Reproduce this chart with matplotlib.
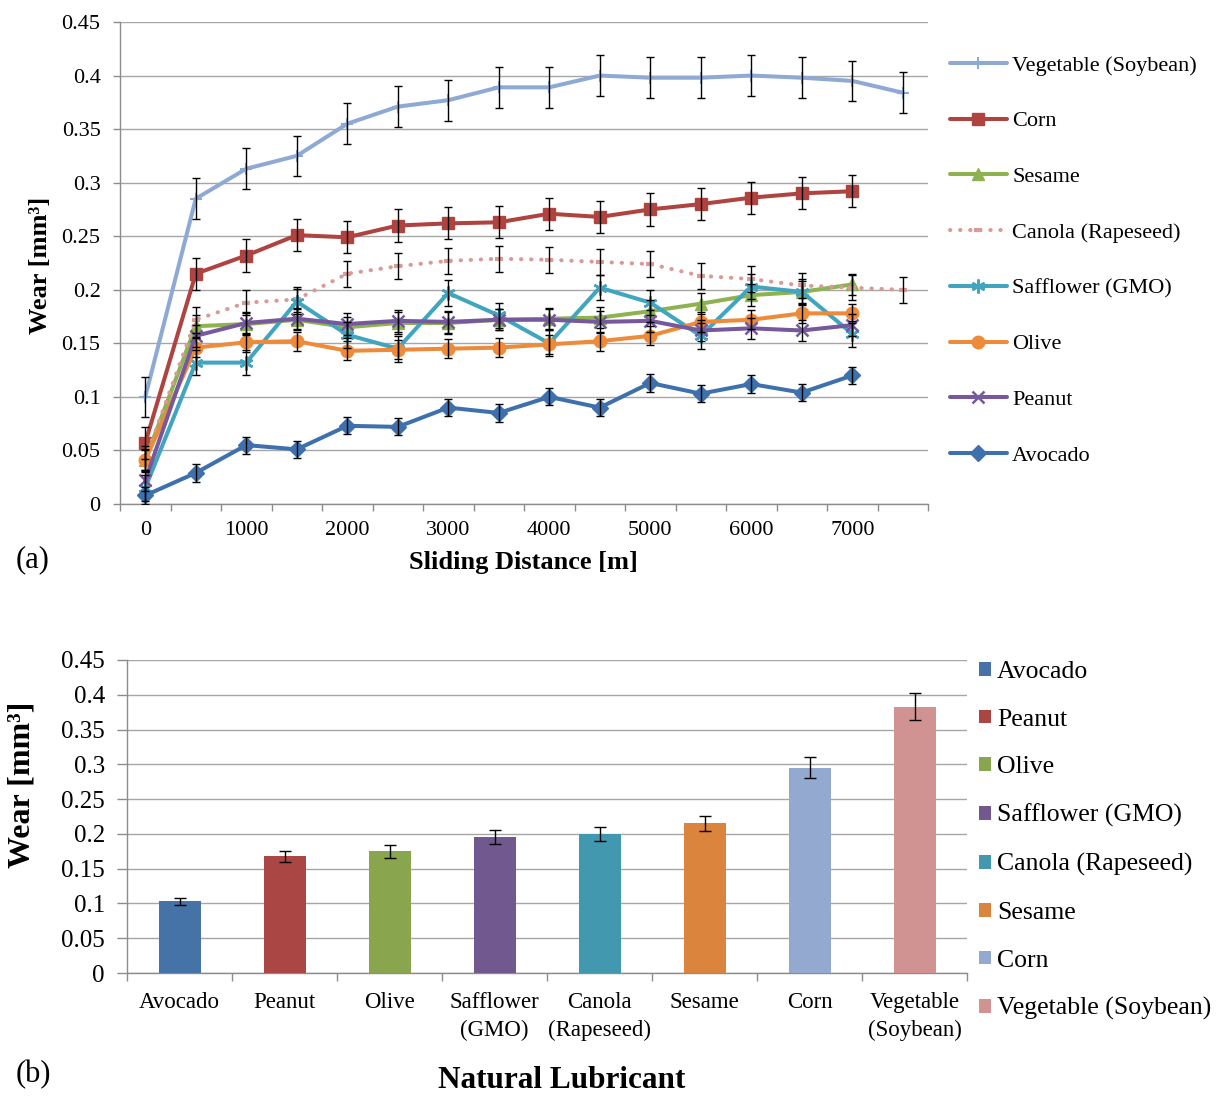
import matplotlib
matplotlib.use("Agg")
import matplotlib.pyplot as plt
from matplotlib.patches import Patch
from matplotlib.lines import Line2D

plt.rcParams['font.family'] = ['Liberation Serif', 'DejaVu Serif']

# ---------------- data: panel (a) ----------------
distance = [0, 500, 1000, 1500, 2000, 2500, 3000, 3500, 4000, 4500, 5000, 5500, 6000, 6500, 7000, 7500]
x_tick_labels = ['0', '1000', '2000', '3000', '4000', '5000', '6000', '7000']

vegetable = [0.100, 0.285, 0.313, 0.325, 0.355, 0.371, 0.377, 0.389, 0.389, 0.400, 0.398, 0.398, 0.400, 0.398, 0.395, 0.384]
corn = [0.057, 0.215, 0.232, 0.251, 0.249, 0.260, 0.262, 0.263, 0.271, 0.268, 0.275, 0.280, 0.286, 0.290, 0.292]
sesame = [0.041, 0.166, 0.168, 0.172, 0.165, 0.169, 0.169, 0.172, 0.173, 0.174, 0.180, 0.187, 0.195, 0.198, 0.205]
canola = [0.042, 0.172, 0.188, 0.191, 0.215, 0.222, 0.227, 0.229, 0.228, 0.226, 0.224, 0.213, 0.210, 0.204, 0.202, 0.200]
safflower = [0.015, 0.132, 0.132, 0.189, 0.158, 0.145, 0.197, 0.176, 0.150, 0.202, 0.188, 0.157, 0.203, 0.198, 0.159]
olive = [0.041, 0.146, 0.151, 0.152, 0.143, 0.144, 0.145, 0.146, 0.149, 0.152, 0.157, 0.170, 0.172, 0.178, 0.178]
peanut = [0.022, 0.157, 0.169, 0.173, 0.168, 0.171, 0.170, 0.172, 0.172, 0.170, 0.171, 0.162, 0.164, 0.162, 0.167]
avocado = [0.008, 0.029, 0.055, 0.051, 0.073, 0.072, 0.090, 0.085, 0.100, 0.090, 0.113, 0.103, 0.112, 0.104, 0.120]

err_vegetable = 0.019
err_corn = 0.015
err_sesame = 0.010
err_canola = 0.012
err_safflower = 0.012
err_olive = 0.009
err_peanut = 0.010
err_avocado = 0.008

# ---------------- data: panel (b) ----------------
lubricants = ['Avocado', 'Peanut', 'Olive', 'Safflower (GMO)', 'Canola (Rapeseed)', 'Sesame', 'Corn', 'Vegetable (Soybean)']
lubricant_ticks = ['Avocado', 'Peanut', 'Olive', 'Safflower\n(GMO)', 'Canola\n(Rapeseed)', 'Sesame', 'Corn', 'Vegetable\n(Soybean)']
final_wear = [0.103, 0.168, 0.175, 0.195, 0.200, 0.215, 0.295, 0.383]
final_err = [0.005, 0.008, 0.009, 0.010, 0.010, 0.011, 0.015, 0.019]
bar_colors = ['#4572A7', '#AA4643', '#89A54E', '#71588F', '#4198AF', '#DB843D', '#93A9CF', '#D19392']

W, H = 1218, 1097
fig = plt.figure(figsize=(W / 100, H / 100), dpi=100)

grid_c = '#A6A6A6'
axis_c = '#8C8C8C'

# ---------------- panel (a) ----------------
ax = fig.add_axes([120 / W, 1 - 504 / H, 808 / W, 482 / H])
series = [
    ('Vegetable (Soybean)', vegetable, err_vegetable, '#8EAAD4', '+', 8, '-', dict(mew=1.5)),
    ('Corn', corn, err_corn, '#AF4340', 's', 9, '-', dict()),
    ('Sesame', sesame, err_sesame, '#8DB24F', '^', 9, '-', dict()),
    ('Canola (Rapeseed)', canola, err_canola, '#D99A98', '_', 6, (0, (0.1, 2.4)), dict(mew=3)),
    ('Safflower (GMO)', safflower, err_safflower, '#42A5BF', (6, 2, 0), 10, '-', dict(mew=1.8)),
    ('Olive', olive, err_olive, '#EE8B3A', 'o', 9, '-', dict()),
    ('Peanut', peanut, err_peanut, '#76599C', 'x', 8, '-', dict(mew=1.8)),
    ('Avocado', avocado, err_avocado, '#3F70AE', 'D', 8, '-', dict()),
]
handles = []
for i, (name, vals, err, col, mk, ms, ls, extra) in enumerate(series):
    xs = list(range(len(vals)))
    line, = ax.plot(xs, vals, color=col, lw=2.9, linestyle=ls, marker=mk, ms=ms,
                    mfc=col, mec=col, dash_capstyle='round', solid_capstyle='round',
                    zorder=3 + i * 0.1, label=name, **extra)
    ax.errorbar(xs, vals, yerr=err, fmt='none', ecolor='black', elinewidth=1.0,
                capsize=3.2, capthick=1.0, zorder=5)
    handles.append(line)

ax.set_xlim(-0.5, len(distance) - 0.5)
ax.set_ylim(0, 0.45)
ax.set_yticks([i * 0.05 for i in range(10)])
ax.set_yticklabels(['0', '0.05', '0.1', '0.15', '0.2', '0.25', '0.3', '0.35', '0.4', '0.45'])
ax.set_xticks(range(0, len(distance) - 1, 2))
ax.set_xticklabels(x_tick_labels)
ax.set_xticks([i - 0.5 for i in range(len(distance) + 1)], minor=True)
ax.tick_params(axis='x', which='major', length=0, pad=12, labelsize=16)
ax.tick_params(axis='x', which='minor', length=5, direction='out', color=axis_c, width=1)
ax.tick_params(axis='y', which='major', length=5, direction='out', color=axis_c, width=1, pad=9, labelsize=16)
ax.grid(axis='y', color=grid_c, lw=1.0, zorder=0)
ax.set_axisbelow(True)
for s in ['top', 'right']:
    ax.spines[s].set_visible(False)
for s in ['left', 'bottom']:
    ax.spines[s].set_color(axis_c)
    ax.spines[s].set_linewidth(1.0)

fig.legend(handles=handles, loc='upper left', bbox_to_anchor=(950 / W, 1 - 55 / H),
           frameon=False, fontsize=16, borderpad=0, borderaxespad=0,
           handlelength=2.55, handletextpad=0.25, labelspacing=1.585)

fig.text(40 / W, 1 - 265 / H, 'Wear [mm³]', rotation=90, ha='center', va='center',
         fontsize=19, fontweight='bold')
fig.text(523 / W, 1 - 563 / H, 'Sliding Distance [m]', ha='center', va='center',
         fontsize=19, fontweight='bold')
fig.text(16 / W, 1 - 560 / H, '(a)', ha='left', va='center', fontsize=22)

# ---------------- panel (b) ----------------
bx = fig.add_axes([127 / W, 1 - 973 / H, 840 / W, 313 / H])
xs = list(range(len(lubricants)))
bars = bx.bar(xs, final_wear, width=0.4, color=bar_colors, zorder=3)
bx.errorbar(xs, final_wear, yerr=final_err, fmt='none', ecolor='black', elinewidth=1.0,
            capsize=4, capthick=1.0, zorder=5)
bx.set_xlim(-0.5, len(lubricants) - 0.5)
bx.set_ylim(0, 0.45)
bx.set_yticks([i * 0.05 for i in range(10)])
bx.set_yticklabels(['0', '0.05', '0.1', '0.15', '0.2', '0.25', '0.3', '0.35', '0.4', '0.45'])
bx.set_xticks(xs)
bx.set_xticklabels(lubricant_ticks, linespacing=1.4)
bx.set_xticks([i - 0.5 for i in range(len(lubricants) + 1)], minor=True)
bx.tick_params(axis='x', which='major', length=0, pad=14, labelsize=16.5)
bx.tick_params(axis='x', which='minor', length=6, direction='out', color=axis_c, width=1)
bx.tick_params(axis='y', which='major', length=7, direction='out', color=axis_c, width=1, pad=9, labelsize=18)
bx.grid(axis='y', color=grid_c, lw=1.0, zorder=0)
bx.set_axisbelow(True)
for s in ['top', 'right']:
    bx.spines[s].set_visible(False)
for s in ['left', 'bottom']:
    bx.spines[s].set_color(axis_c)
    bx.spines[s].set_linewidth(1.0)

patches = [Patch(facecolor=c, edgecolor='none', label=n) for c, n in zip(bar_colors, lubricants)]
fig.legend(handles=patches, loc='upper left', bbox_to_anchor=(979 / W, 1 - 661 / H),
           frameon=False, fontsize=18.5, borderpad=0, borderaxespad=0,
           handlelength=0.45, handleheight=0.45, handletextpad=0.25, labelspacing=1.0)

fig.text(22 / W, 1 - 785 / H, 'Wear [mm³]', rotation=90, ha='center', va='center',
         fontsize=23, fontweight='bold')
fig.text(562 / W, 1 - 1080 / H, 'Natural Lubricant', ha='center', va='center',
         fontsize=22.5, fontweight='bold')
fig.text(16 / W, 1 - 1075 / H, '(b)', ha='left', va='center', fontsize=22)

fig.savefig('out.png', dpi=100)
